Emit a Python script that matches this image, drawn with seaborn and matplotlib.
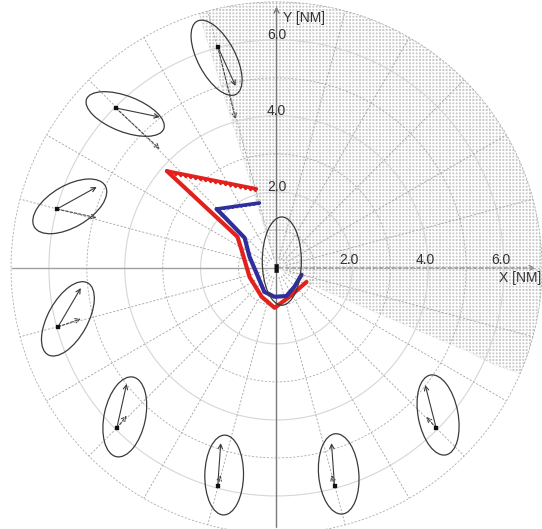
import numpy as np
import pandas as pd
import matplotlib
matplotlib.use("Agg")
import matplotlib.pyplot as plt
import matplotlib.patheffects as pe
from matplotlib.patches import Ellipse, Polygon
import seaborn as sns

# ==============================================================================
# data, all in NM (own ship at origin)
# ==============================================================================
ring_solid = [2, 4, 6]
ring_dashed = [1, 3, 5, 7]
spoke_deg = list(range(0, 360, 15))
tick_vals = [2.0, 4.0, 6.0]
tick_labels = ["2.0", "4.0", "6.0"]

# radar coverage (shaded sector)
cover_start_deg = -23.5
cover_end_deg = 107
cover_edge_x = [0.0, 0.61, 1.66, 2.71, 3.76, 4.82, 5.74, 6.42]
cover_edge_y = [0.0, -0.32, -0.50, -0.84, -1.58, -2.10, -2.55, -2.79]

# tracks
red_wake_x = [-0.53, -2.89]
red_wake_y = [2.08, 2.55]
red_x = [-2.89, -1.03, -0.92, -0.71, -0.39, -0.05, 0.34, 0.79]
red_y = [2.55, 0.82, 0.47, -0.24, -0.76, -1.05, -0.76, -0.37]
blue_wake_x = [-0.45, -1.58]
blue_wake_y = [1.71, 1.55]
blue_x = [-1.58, -1.37, -0.84, -0.71, -0.53, -0.32, -0.05, 0.26, 0.47, 0.66]
blue_y = [1.55, 1.34, 0.79, 0.29, -0.13, -0.63, -0.76, -0.74, -0.50, -0.18]

# targets: position, solid / dashed vector tips, uncertainty ellipse
tgt_x = [-1.55, -4.24, -5.79, -5.76, -4.21, -1.55, 1.53, 4.21]
tgt_y = [5.82, 4.21, 1.55, -1.55, -4.21, -5.74, -5.74, -4.21]
vec_x = [-1.08, -3.08, -4.74, -5.16, -3.95, -1.47, 1.45, 3.92]
vec_y = [4.79, 3.97, 2.13, -0.53, -3.05, -4.61, -4.61, -3.08]
dvec_x = [-1.08, -3.08, -4.74, -5.16, -3.95, -1.47, 1.45, 3.95]
dvec_y = [3.92, 3.13, 1.32, -1.34, -3.89, -5.45, -5.45, -3.92]
ell_x = [-1.58, -3.99, -5.45, -5.50, -4.00, -1.38, 1.64, 4.26, 0.14]
ell_y = [5.53, 4.05, 1.62, -1.34, -3.92, -5.45, -5.42, -3.87, 0.18]
ell_w = [2.18, 2.18, 2.16, 2.16, 2.14, 2.10, 2.12, 2.14, 2.32]
ell_h = [0.99, 0.94, 1.10, 1.05, 1.09, 1.02, 1.06, 1.05, 1.03]
ell_ang = [118, -21, 30, 61, 78, 89, 95, 101, 90]

# ==============================================================================

sns.set_theme(style="white")
plt.rcParams["font.family"] = ["Liberation Sans", "DejaVu Sans"]
plt.rcParams["hatch.linewidth"] = 1.0

fig = plt.figure(figsize=(5.42, 5.29), dpi=100)
ax = fig.add_axes([0, 0, 1, 1])
ax.set_xlim(-7.29, 7.0)
ax.set_ylim(-6.87, 7.05)
ax.axis("off")

# coverage sector
arc = np.radians(np.linspace(cover_start_deg, cover_end_deg, 120))
R = ring_dashed[-1]
poly = list(zip(R * np.cos(arc), R * np.sin(arc))) + [(0, 0)]
poly += list(zip(cover_edge_x, cover_edge_y))[1:][::-1]
ax.add_patch(Polygon(poly, closed=True, facecolor="#c9c9c9", edgecolor="white",
                     hatch="+++++", lw=0, zorder=0))

# range rings and spokes
t = np.linspace(0, 2 * np.pi, 400)
for r in ring_solid:
    ax.plot(r * np.cos(t), r * np.sin(t), color="#d6d6d6", lw=0.8, zorder=1)
for r in ring_dashed:
    ax.plot(r * np.cos(t), r * np.sin(t), color="#ababab", lw=0.6,
            dashes=(2.5, 2.0), zorder=1)
for a in spoke_deg:
    c, s = np.cos(np.radians(a)), np.sin(np.radians(a))
    ax.plot([0.25 * c, R * c], [0.25 * s, R * s], color="#a2a2a2", lw=0.6,
            dashes=(2.5, 2.0), zorder=1)

# axes
ax.annotate("", xy=(0, 6.95), xytext=(0, -6.9),
            arrowprops=dict(arrowstyle="->", color="#7a7a7a", lw=1.0, mutation_scale=9),
            zorder=2)
ax.plot([-6.97, 0], [0, 0], color="#a0a0a0", lw=1.0, zorder=2)
ax.annotate("", xy=(6.9, 0), xytext=(0, 0),
            arrowprops=dict(arrowstyle="->", color="#8a8a8a", lw=0.9,
                            linestyle=(0, (3, 2)), mutation_scale=9),
            zorder=2)

for v, lab in zip(tick_vals, tick_labels):
    ax.text(v - 0.08, 0.02, lab, ha="center", va="bottom", fontsize=10, color="#333333")
    ax.text(0.0, v - 0.05, lab, ha="center", va="bottom", fontsize=10, color="#333333")
ax.text(0.16, 6.58, "Y [NM]", ha="left", va="center", fontsize=10, color="#333333")
ax.text(5.87, -0.27, "X [NM]", ha="left", va="center", fontsize=10, color="#333333")

# tracks
red = "#e3211c"
blue = "#2e2e9e"
tracks = pd.DataFrame({
    "x": red_x + blue_x,
    "y": red_y + blue_y,
    "ship": ["red"] * len(red_x) + ["blue"] * len(blue_x),
})
sns.lineplot(data=tracks, x="x", y="y", hue="ship", palette={"red": red, "blue": blue},
             sort=False, estimator=None, lw=3.0, legend=False, ax=ax, zorder=4)
ax.plot(red_wake_x, red_wake_y, color=red, lw=2.6, zorder=4,
        path_effects=[pe.TickedStroke(spacing=3.5, angle=135, length=0.6, linewidth=2.0),
                      pe.Normal()])
ax.plot(blue_wake_x, blue_wake_y, color=blue, lw=2.6, zorder=4,
        path_effects=[pe.TickedStroke(spacing=3.0, angle=135, length=0.4, linewidth=1.6),
                      pe.Normal()])

# targets
for cx, cy, w, h, a in zip(ell_x, ell_y, ell_w, ell_h, ell_ang):
    ax.add_patch(Ellipse((cx, cy), w, h, angle=a, fill=False, edgecolor="#3a3a3a",
                         lw=0.9, zorder=5))
for x0, y0, x1, y1, x2, y2 in zip(tgt_x, tgt_y, vec_x, vec_y, dvec_x, dvec_y):
    ax.annotate("", xy=(x1, y1), xytext=(x0, y0),
                arrowprops=dict(arrowstyle="->", color="#3a3a3a", lw=0.8,
                                mutation_scale=8, shrinkA=0, shrinkB=0), zorder=6)
    ax.annotate("", xy=(x2, y2), xytext=(x0, y0),
                arrowprops=dict(arrowstyle="->", color="#4a4a4a", lw=0.8,
                                linestyle=(0, (2.5, 1.5)), mutation_scale=8,
                                shrinkA=0, shrinkB=0), zorder=6)
sns.scatterplot(x=tgt_x, y=tgt_y, marker="s", s=7, color="#111111",
                edgecolor="#111111", ax=ax, zorder=7)
sns.scatterplot(x=[0.0], y=[0.0], marker=[(-1, -2), (1, -2), (1, 2), (-1, 2)],
                s=30, color="#111111", edgecolor="#111111", ax=ax, zorder=7)

fig.savefig("out.png", dpi=100)
